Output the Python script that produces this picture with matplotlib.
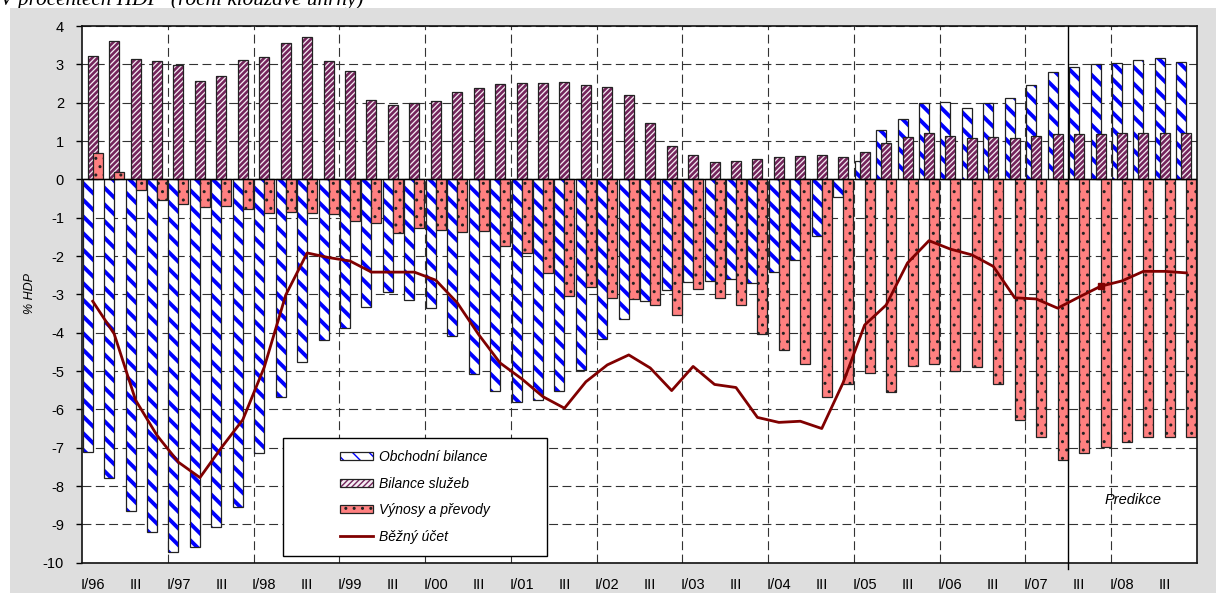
import matplotlib
matplotlib.use("Agg")
import matplotlib.pyplot as plt
from matplotlib.patches import Patch, Rectangle
from matplotlib.lines import Line2D
from matplotlib.legend_handler import HandlerTuple
import numpy as np

plt.rcParams["font.family"] = ["Liberation Sans", "DejaVu Sans"]
plt.rcParams["axes.unicode_minus"] = False

# ---- data: quarterly, I/96 .. IV/08, % HDP (4Q moving sums) ----
years = ["96", "97", "98", "99", "00", "01", "02", "03", "04", "05", "06", "07", "08"]
tick_labels = [lab for y in years for lab in ("I/" + y, "III")]

trade = [-7.10, -7.78, -8.65, -9.20, -9.73, -9.60, -9.08, -8.55, -7.15, -5.69,
         -4.76, -4.19, -3.87, -3.32, -2.93, -3.16, -3.36, -4.09, -5.08, -5.51,
         -5.81, -5.75, -5.52, -4.97, -4.16, -3.64, -3.17, -2.89, -2.68, -2.65,
         -2.59, -2.71, -2.41, -2.10, -1.49, -0.46, 0.49, 1.30, 1.57, 1.98,
         2.03, 1.87, 1.98, 2.13, 2.45, 2.80, 2.92, 3.00, 3.04, 3.12, 3.16, 3.06]
services = [3.21, 3.60, 3.14, 3.10, 2.99, 2.57, 2.69, 3.11, 3.19, 3.56, 3.71, 3.10, 2.83,
            2.08, 1.94, 1.99, 2.04, 2.27, 2.37, 2.48, 2.51, 2.51, 2.53, 2.46, 2.40, 2.19,
            1.47, 0.87, 0.63, 0.44, 0.47, 0.52, 0.58, 0.61, 0.63, 0.57, 0.72, 0.94, 1.10,
            1.22, 1.13, 1.07, 1.11, 1.07, 1.13, 1.17, 1.17, 1.17, 1.20, 1.20, 1.20, 1.20]
income = [0.70, 0.18, -0.27, -0.53, -0.64, -0.73, -0.70, -0.77, -0.87, -0.85, -0.88, -0.91, -1.08,
          -1.14, -1.40, -1.26, -1.33, -1.37, -1.35, -1.75, -1.93, -2.45, -3.05, -2.80, -3.10, -3.12,
          -3.28, -3.54, -2.86, -3.09, -3.28, -4.03, -4.46, -4.82, -5.67, -5.35, -5.05, -5.54, -4.87,
          -4.82, -4.99, -4.89, -5.33, -6.29, -6.72, -7.32, -7.15, -6.98, -6.86, -6.72, -6.72, -6.72]
current = [-3.18, -4.03, -5.76, -6.68, -7.38, -7.78, -7.00, -6.27, -4.90, -3.02,
           -1.92, -2.04, -2.13, -2.42, -2.42, -2.42, -2.63, -3.22, -4.05, -4.79,
           -5.20, -5.67, -5.97, -5.28, -4.84, -4.58, -4.92, -5.51, -4.88, -5.35,
           -5.43, -6.21, -6.34, -6.31, -6.50, -5.30, -3.80, -3.28, -2.18, -1.60,
           -1.82, -1.97, -2.27, -3.09, -3.12, -3.36, -3.07, -2.79, -2.65, -2.40, -2.40, -2.44]
pred_start = 46      # first forecast quarter (III/07)
marker_idx = [47]

W, H = 1216, 593
fig = plt.figure(figsize=(W / 100, H / 100), dpi=100)
fig.patch.set_facecolor("white")

# grey backdrop and the heading that is cut off at the top edge (as in the source)
fig.add_artist(Rectangle((10 / W, 0), 1, (H - 8) / H, transform=fig.transFigure,
                         facecolor="#dedede", edgecolor="none", zorder=1))
fig.text(0.0, 1 - 5 / H, "V procentech HDP  (roční klouzavé úhrny)", family="Liberation Serif",
         style="italic", fontsize=15.3, va="baseline", ha="left", zorder=0.5)

ax = fig.add_axes([82 / W, (H - 562.7) / H, (1197 - 82) / W, (562.7 - 26) / H])
ax.set_zorder(2)
ax.set_facecolor("white")

n = len(trade)
x = np.arange(n) + 0.5
bw = 0.466

BLUE_H, PURP_H = "\\\\", "//////"
BLUE_LW, PURP_LW = 2.8, 1.9
with plt.rc_context({"hatch.linewidth": BLUE_LW}):
    ax.bar(x - bw / 2, trade, bw, color="white", edgecolor="#0000ff", hatch=BLUE_H, lw=0, zorder=2)
ax.bar(x - bw / 2, trade, bw, fill=False, edgecolor="#222222", lw=0.9, zorder=2.01)
with plt.rc_context({"hatch.linewidth": PURP_LW}):
    ax.bar(x, services, bw, color="#f6eef4", edgecolor="#74255c", hatch=PURP_H, lw=0, zorder=2.1)
ax.bar(x, services, bw, fill=False, edgecolor="#222222", lw=0.9, zorder=2.11)
with plt.rc_context({"hatch.linewidth": 1.0}):
    ax.bar(x + bw / 2, income, bw, color="#ff8080", edgecolor="#222222", hatch="..", lw=0.9, zorder=2.2)

ax.plot(x, current, color="#800000", lw=2.0, marker="s", markersize=5,
        markevery=marker_idx, zorder=4)

ax.axhline(0, color="black", lw=1.0, zorder=3.5)
for b in range(4, n, 4):
    ax.axvline(b, color="#333333", lw=0.8, linestyle=(0, (8, 4)), zorder=0.5)
ax.axvline(pred_start, ymin=-0.012, ymax=1, color="black", lw=1.0, clip_on=False, zorder=3.6)

ax.set_xlim(0, n)
ax.set_ylim(-10, 4)
ax.set_yticks(range(-10, 5))
ax.set_xticks(x[::2])
ax.set_xticklabels(tick_labels)
ax.tick_params(axis="x", length=0, pad=11, labelsize=10.5)
ax.tick_params(axis="y", length=4, width=1, pad=9, labelsize=10.5, direction="out")
ax.grid(axis="y", color="#333333", lw=0.8, linestyle=(0, (8, 4)), zorder=0.5)
ax.set_axisbelow(True)
for s in ax.spines.values():
    s.set_linewidth(1.2)
    s.set_color("#111111")

ax.text(49.0, -8.36, "Predikce", style="italic", fontsize=10.5, ha="center", va="center", zorder=5)
fig.text(30 / W, 1 - 293 / H, "% HDP", rotation=90, style="italic", fontsize=9,
         ha="center", va="center", zorder=3)

# legend: frame drawn separately, entries centred inside it
ax.add_artist(Rectangle((283 / W, 1 - 556 / H), (547 - 283) / W, (556 - 438) / H,
                        transform=fig.transFigure, facecolor="white", edgecolor="black",
                        lw=1.0, zorder=4.8))
with plt.rc_context({"hatch.linewidth": BLUE_LW}):
    hb = Patch(facecolor="white", edgecolor="#0000ff", hatch=BLUE_H, lw=0)
with plt.rc_context({"hatch.linewidth": PURP_LW}):
    hp = Patch(facecolor="#f6eef4", edgecolor="#74255c", hatch=PURP_H, lw=0)
h_trade = (hb, Patch(fill=False, edgecolor="#222222", lw=0.9))
h_serv = (hp, Patch(fill=False, edgecolor="#222222", lw=0.9))
h_inc = Patch(facecolor="#ff8080", edgecolor="#222222", hatch="..", lw=0.9)
h_cur = Line2D([], [], color="#800000", lw=2.0)
leg = ax.legend([h_trade, h_serv, h_inc, h_cur],
                ["Obchodní bilance", "Bilance služeb", "Výnosy a převody", "Běžný účet"],
                handler_map={tuple: HandlerTuple(ndivide=1, pad=0)},
                loc="center", bbox_to_anchor=(415 / W, 1 - 497 / H), bbox_transform=fig.transFigure,
                frameon=False, prop={"style": "italic", "size": 10},
                handlelength=2.4, handleheight=0.5, handletextpad=0.4, labelspacing=0.9)
leg.set_zorder(5)

fig.savefig("out.png", dpi=100)
